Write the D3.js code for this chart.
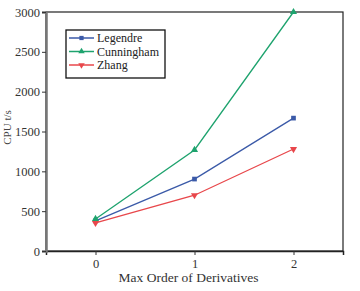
<!DOCTYPE html>
<html>
<head>
<meta charset="utf-8">
<script src="https://cdn.jsdelivr.net/npm/d3@7"></script>
<style>
  body { margin: 0; background: #fff; }
</style>
</head>
<body>
<svg id="drawing_region"></svg>
<script>
const orders = [0, 1, 2];
const legendre = [378, 903, 1668];
const cunningham = [402, 1268, 3000];
const zhang = [352, 700, 1280];
const yticks = [0, 500, 1000, 1500, 2000, 2500, 3000];

const series = [
    { name: "Legendre", values: legendre, color: "#3b5aa8", symbol: d3.symbolSquare },
    { name: "Cunningham", values: cunningham, color: "#1ea36e", symbol: d3.symbolTriangle },
    { name: "Zhang", values: zhang, color: "#e8474b", symbol: d3.symbolTriangle, flip: true },
];

const font = "'Liberation Serif', 'Times New Roman', Times, serif";

const width = 360, height = 291;
const margin = {top: 12, right: 17, bottom: 40, left: 46};
const inner_width = width - margin.left - margin.right;
const inner_height = height - margin.top - margin.bottom;

const svg = d3.select('#drawing_region')
    .attr('width', width)
    .attr('height', height)
    .style('font-family', font);

const chart = svg.append('g')
    .attr('transform', `translate(${margin.left}, ${margin.top})`);

const xscale = d3.scaleLinear().domain([-0.5, 2.5]).range([0, inner_width]);
const yscale = d3.scaleLinear().domain([0, 3000]).range([inner_height, 0]);

// frame
chart.append('rect')
    .attr('width', inner_width)
    .attr('height', inner_height)
    .attr('fill', 'none')
    .attr('stroke', '#222')
    .attr('stroke-width', 1.2);

const xaxis_group = chart.append('g')
    .attr('transform', `translate(0, ${inner_height})`)
    .call(d3.axisBottom(xscale).tickValues(orders).tickFormat(d3.format('d')).tickSize(4).tickPadding(4));

const yaxis_group = chart.append('g')
    .call(d3.axisLeft(yscale).tickValues(yticks).tickFormat(d3.format('d')).tickSize(4).tickPadding(2));

[xaxis_group, yaxis_group].forEach(g => {
    g.attr('font-family', font);
    g.select('.domain').attr('stroke', '#222').attr('stroke-width', 1.5);
    g.selectAll('.tick line').attr('stroke', '#333');
    g.selectAll('text')
        .attr('font-family', font)
        .attr('font-size', '12.5px')
        .attr('fill', '#333');
});
yaxis_group.select('.domain').attr('stroke', '#777').attr('stroke-width', 2.5);

const line = d3.line()
    .x((d, i) => xscale(orders[i]))
    .y(d => yscale(d));

series.forEach(s => {
    chart.append('path')
        .datum(s.values)
        .attr('fill', 'none')
        .attr('stroke', s.color)
        .attr('stroke-width', 1.3)
        .attr('d', line);

    chart.selectAll(null)
        .data(s.values)
        .enter()
        .append('path')
        .attr('d', d3.symbol().type(s.symbol).size(22))
        .attr('transform', (d, i) => `translate(${xscale(orders[i])}, ${yscale(d)})${s.flip ? ' rotate(180)' : ''}`)
        .attr('fill', s.color);
});

// legend
const legend = chart.append('g')
    .attr('transform', 'translate(20, 18)');

legend.append('rect')
    .attr('width', 99)
    .attr('height', 48)
    .attr('fill', '#fff')
    .attr('stroke', '#111')
    .attr('stroke-width', 1.3);

series.forEach((s, i) => {
    const row = legend.append('g')
        .attr('transform', `translate(0, ${8 + i * 13.5})`);
    row.append('line')
        .attr('x1', 3).attr('x2', 28)
        .attr('stroke', s.color)
        .attr('stroke-width', 1.5);
    row.append('path')
        .attr('d', d3.symbol().type(s.symbol).size(18))
        .attr('transform', `translate(15.5, 0)${s.flip ? ' rotate(180)' : ''}`)
        .attr('fill', s.color);
    row.append('text')
        .attr('x', 31)
        .attr('y', 4)
        .attr('font-family', font)
        .attr('font-size', '12px')
        .attr('fill', '#222')
        .text(s.name);
});

// axis labels
svg.append('text')
    .attr('x', margin.left + inner_width / 2 - 6)
    .attr('y', height - 9)
    .style('text-anchor', 'middle')
    .attr('font-family', font)
    .attr('font-size', '13.5px')
    .attr('fill', '#333')
    .text('Max Order of Derivatives');

svg.append('text')
    .attr('transform', 'rotate(-90)')
    .attr('x', -(margin.top + inner_height / 2) + 4)
    .attr('y', 11)
    .style('text-anchor', 'middle')
    .attr('font-family', font)
    .attr('font-size', '11px')
    .attr('fill', '#444')
    .text('CPU t/s');
</script>
</body>
</html>
